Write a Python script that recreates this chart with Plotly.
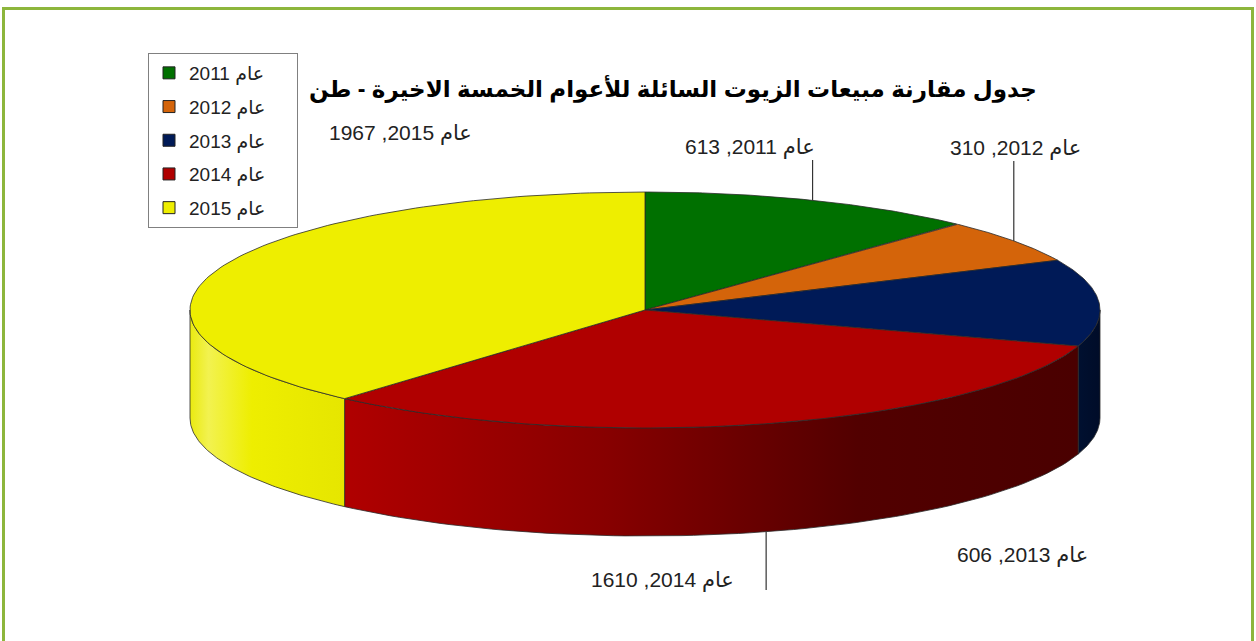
import numpy as np
import plotly.graph_objects as go

# ---------------- data ----------------
years = ["2011", "2012", "2013", "2014", "2015"]
values = [613, 310, 606, 1610, 1967]
legend_names = ["عام " + y for y in years]
label_texts = ["عام " + y + ", " + str(v) for y, v in zip(years, values)]
title_text = "جدول مقارنة مبيعات الزيوت السائلة للأعوام الخمسة الاخيرة - طن"

# ---------------- styles ----------------
top_colors = ["#007000", "#D4640A", "#001A57", "#B00000", "#EEEE00"]
side_scales = [
    [[0, "#004000"], [1, "#003000"]],
    [[0, "#8A4006"], [1, "#703305"]],
    [[0, "#001030"], [1, "#000C28"]],
    [[0, "#B00000"], [0.35, "#880000"], [0.7, "#520000"], [1, "#4A0000"]],
    [[0, "#EAEA10"], [0.12, "#F2F250"], [0.4, "#EEEE00"], [1, "#E6E600"]],
]
# label centre positions (pixels) and whether a leader line is drawn
label_pos = [(750, 147), (1015, 148), (1022, 555), (662, 580), (400, 133)]
leader = [True, True, False, True, False]
LEGEND_PAD = "\u00a0" * 5

FONT = "Arial, Liberation Sans, DejaVu Sans, sans-serif"
W, H = 1256, 641
cx, cy, rx, ry, depth = 645, 310, 455, 118, 108


def pt(t_deg):
    t = np.radians(t_deg)
    return cx + rx * np.sin(t), cy - ry * np.cos(t)


def px(x):
    return x / W


def py(y):
    return 1 - y / H


total = sum(values)
bounds = np.concatenate([[0], np.cumsum(values)]) / total * 360.0

fig = go.Figure()

# side walls (visible front half: 90..270 deg)
for i in range(len(values)):
    a, b = bounds[i], bounds[i + 1]
    s, e = max(a, 90), min(b, 270)
    if e <= s:
        continue
    ts = np.linspace(s, e, 80)
    xt, yt = pt(ts)
    xs = list(xt) + list(xt[::-1]) + [xt[0]]
    ys = list(yt) + list((yt + depth)[::-1]) + [yt[0]]
    fig.add_trace(go.Scatter(
        x=xs, y=ys, mode="lines", fill="toself",
        fillgradient=dict(type="horizontal", colorscale=side_scales[i]),
        line=dict(color="#2a2a2a", width=0.8),
        hoverinfo="skip", showlegend=False))

# top faces
for i in range(len(values)):
    a, b = bounds[i], bounds[i + 1]
    ts = np.linspace(a, b, 120)
    xt, yt = pt(ts)
    xs = [cx] + list(xt) + [cx]
    ys = [cy] + list(yt) + [cy]
    fig.add_trace(go.Scatter(
        x=xs, y=ys, mode="lines", fill="toself", fillcolor=top_colors[i],
        line=dict(color="#2a2a2a", width=0.8),
        hoverinfo="text", text=label_texts[i], showlegend=False))

# leader lines & labels
for i in range(len(values)):
    mid = (bounds[i] + bounds[i + 1]) / 2
    ax, ay = pt(mid)
    if np.cos(np.radians(mid)) < 0:
        ay = ay + depth
    lx, ly = label_pos[i]
    if leader[i]:
        if ly < ay:
            ys = [ly + 13, ay]
        else:
            ys = [ay, ly + 10]
        fig.add_trace(go.Scatter(x=[ax, ax], y=ys, mode="lines",
                                 line=dict(color="#333333", width=1.2),
                                 hoverinfo="skip", showlegend=False))
    fig.add_annotation(x=lx, y=ly, xref="x", yref="y", text=label_texts[i],
                       showarrow=False, xanchor="center", yanchor="middle",
                       font=dict(family=FONT, size=21, color="#222222"))

# legend entries
for i in range(len(values)):
    fig.add_trace(go.Scatter(
        x=[None], y=[None], mode="markers", name=legend_names[i] + LEGEND_PAD,
        legendgroup="g" + years[i],
        marker=dict(symbol="square", size=12, color=top_colors[i],
                    line=dict(color="#222222", width=1))))

# green frame
fig.add_shape(type="rect", xref="paper", yref="paper",
              x0=px(3.5), y0=py(700), x1=px(1252.5), y1=py(8.5),
              line=dict(color="#8DB63C", width=3), layer="below")

fig.update_layout(
    width=W, height=H,
    margin=dict(l=0, r=0, t=0, b=0),
    paper_bgcolor="white", plot_bgcolor="white",
    xaxis=dict(range=[0, W], visible=False, fixedrange=True),
    yaxis=dict(range=[H, 0], visible=False, fixedrange=True),
    title=dict(text="<b>" + title_text + "</b>", x=px(673), y=py(89),
               xanchor="center", yanchor="middle", xref="paper", yref="paper",
               font=dict(family=FONT, size=23, color="#000000")),
    legend=dict(x=px(148), y=py(53), xanchor="left", yanchor="top",
                bgcolor="white", bordercolor="#808080", borderwidth=1,
                tracegroupgap=6,
                font=dict(family=FONT, size=19, color="#222222")),
    showlegend=True,
)

fig.write_html("out.html", config={"displayModeBar": False},
               post_script="document.body.style.margin='0';"
                           "document.body.style.overflow='hidden';")
